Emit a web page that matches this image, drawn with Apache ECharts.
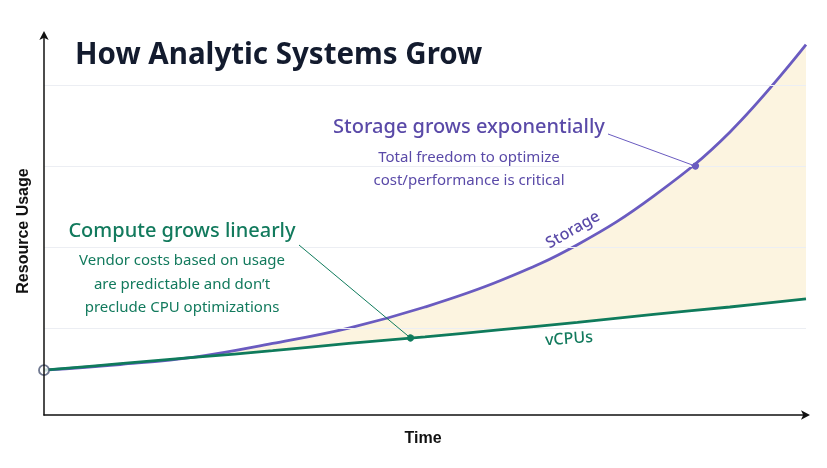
<!DOCTYPE html>
<html>
<head>
<meta charset="utf-8">
<script src="https://cdn.jsdelivr.net/npm/echarts@6/dist/echarts.min.js"></script>
<style>
html,body{margin:0;padding:0;background:#fff;}
#chart{width:827px;height:468px;}
</style>
</head>
<body>
<div id="chart"></div>
<script>
// ---- data ----
const timeSteps = [0, 1, 2, 3, 4, 5, 6, 7, 8, 9, 10];
const storage = [0.48, 0.55, 0.645, 0.81, 1.0, 1.26, 1.59, 2.03, 2.63, 3.42, 4.5];
const vcpus = [0.48, 0.56, 0.64, 0.72, 0.81, 0.89, 0.98, 1.07, 1.17, 1.26, 1.36];
const gridValues = [1, 2, 3, 4];
const storageCallout = [8.55, 3.0];
const computeCallout = [4.81, 0.877];

const PURPLE = '#6a5bc0';
const PURPLE_TXT = '#5a4aa8';
const GREEN = '#0f7b5c';
const GREEN_TXT = '#127a5d';
const FILL = '#fcf4e0';
const FONT = '"Noto Sans", sans-serif';
const AXFONT = '"Liberation Sans", Arial, sans-serif';

const pairs = arr => timeSteps.map((t, i) => [t, arr[i]]);

const chart = echarts.init(document.getElementById('chart'));
chart.setOption({
  backgroundColor: '#ffffff',
  animation: false,
  grid: { left: 44, right: 21, top: 35, bottom: 53 },
  xAxis: {
    type: 'value', min: 0, max: 10, z: 10,
    axisLine: { show: true, onZero: false, symbol: ['none', 'arrow'], symbolSize: [7, 9], symbolOffset: [0, 4],
      lineStyle: { color: '#111', width: 1.5 } },
    axisTick: { show: false }, axisLabel: { show: false }, splitLine: { show: false }
  },
  yAxis: {
    type: 'value', min: -0.074, max: 4.62, z: 10,
    axisLine: { show: true, onZero: false, symbol: ['none', 'arrow'], symbolSize: [7, 9], symbolOffset: [0, 4],
      lineStyle: { color: '#111', width: 1.5 } },
    axisTick: { show: false }, axisLabel: { show: false }, splitLine: { show: false }
  },
  series: [
    { name: 'storageArea', type: 'line', data: pairs(storage), smooth: 0.4, symbol: 'none', z: 1,
      lineStyle: { width: 0 }, areaStyle: { color: FILL, opacity: 1, origin: 'start' }, silent: true },
    { name: 'vcpuArea', type: 'line', data: pairs(vcpus), smooth: 0.4, symbol: 'none', z: 2,
      lineStyle: { width: 0 }, areaStyle: { color: '#ffffff', opacity: 1, origin: 'start' }, silent: true },
    { name: 'grid', type: 'line', data: [], z: 3, silent: true,
      markLine: { silent: true, symbol: 'none', label: { show: false },
        lineStyle: { color: '#eceef3', width: 1, type: 'solid' },
        data: gridValues.map(v => ({ yAxis: v })) } },
    { name: 'Storage', type: 'line', data: pairs(storage), smooth: 0.4, symbol: 'none', z: 4,
      lineStyle: { color: PURPLE, width: 2.8 },
      markLine: { silent: true, symbol: ['none', 'circle'], symbolSize: 7, label: { show: false },
        lineStyle: { color: PURPLE, width: 1, type: 'solid' },
        data: [[{ x: 608, y: 134 }, { coord: storageCallout }]] } },
    { name: 'vCPUs', type: 'line', data: pairs(vcpus), smooth: 0.4, symbol: 'none', z: 5,
      lineStyle: { color: GREEN, width: 2.8 },
      markLine: { silent: true, symbol: ['none', 'circle'], symbolSize: 7, label: { show: false },
        lineStyle: { color: GREEN, width: 1, type: 'solid' },
        data: [[{ x: 299, y: 245 }, { coord: computeCallout }]] } },
    { name: 'origin', type: 'scatter', data: [[timeSteps[0], vcpus[0]]], z: 6,
      symbol: 'circle', symbolSize: 10,
      itemStyle: { color: '#ffffff', borderColor: '#4b5674', borderWidth: 1.8 } }
  ],
  graphic: [
    { type: 'text', z: 20, style: { text: 'How Analytic Systems Grow', x: 75, y: 56, fill: '#131b2e',
      font: 'bold 29.5px ' + FONT, align: 'left', verticalAlign: 'middle' } },
    { type: 'text', z: 20, style: { text: 'Storage grows exponentially', x: 469, y: 127, fill: PURPLE_TXT,
      font: '500 20px ' + FONT, align: 'center', verticalAlign: 'middle' } },
    { type: 'text', z: 20, style: { text: 'Total freedom to optimize', x: 469, y: 158, fill: PURPLE_TXT,
      font: '15px ' + FONT, align: 'center', verticalAlign: 'middle' } },
    { type: 'text', z: 20, style: { text: 'cost/performance is critical', x: 469, y: 181, fill: PURPLE_TXT,
      font: '15px ' + FONT, align: 'center', verticalAlign: 'middle' } },
    { type: 'text', z: 20, style: { text: 'Compute grows linearly', x: 182, y: 231, fill: GREEN_TXT,
      font: '500 20px ' + FONT, align: 'center', verticalAlign: 'middle' } },
    { type: 'text', z: 20, style: { text: 'Vendor costs based on usage', x: 182, y: 261, fill: GREEN_TXT,
      font: '15px ' + FONT, align: 'center', verticalAlign: 'middle' } },
    { type: 'text', z: 20, style: { text: 'are predictable and don\u2019t', x: 182, y: 285, fill: GREEN_TXT,
      font: '15px ' + FONT, align: 'center', verticalAlign: 'middle' } },
    { type: 'text', z: 20, style: { text: 'preclude CPU optimizations', x: 182, y: 308, fill: GREEN_TXT,
      font: '15px ' + FONT, align: 'center', verticalAlign: 'middle' } },
    { type: 'text', z: 20, x: 573, y: 230, rotation: 30 * Math.PI / 180,
      style: { text: 'Storage', x: 0, y: 0, fill: PURPLE_TXT, font: '500 16px ' + FONT,
        align: 'center', verticalAlign: 'middle' } },
    { type: 'text', z: 20, x: 569, y: 339, rotation: 4 * Math.PI / 180,
      style: { text: 'vCPUs', x: 0, y: 0, fill: GREEN_TXT, font: '500 16px ' + FONT,
        align: 'center', verticalAlign: 'middle' } },
    { type: 'text', z: 20, x: 24, y: 231, rotation: Math.PI / 2,
      style: { text: 'Resource Usage', x: 0, y: 0, fill: '#111', font: 'bold 16px ' + AXFONT,
        align: 'center', verticalAlign: 'middle' } },
    { type: 'text', z: 20, style: { text: 'Time', x: 423, y: 439, fill: '#111', font: 'bold 16px ' + AXFONT,
      align: 'center', verticalAlign: 'middle' } }
  ]
});
</script>
</body>
</html>
